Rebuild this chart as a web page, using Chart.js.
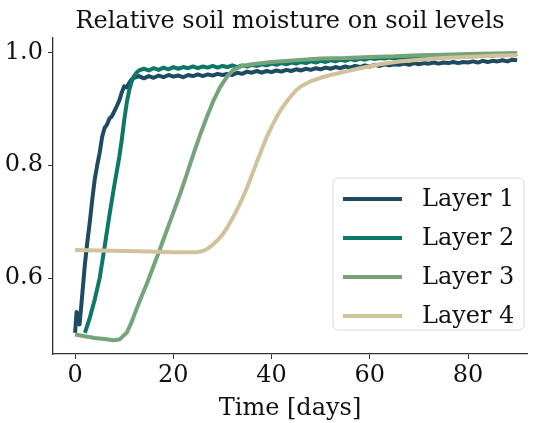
<!DOCTYPE html>
<html><head><meta charset="utf-8">
<script src="https://cdn.jsdelivr.net/npm/chart.js@4/dist/chart.umd.min.js"></script>
<style>html,body{margin:0;padding:0;background:#fff;}canvas{display:block;}</style>
</head><body>
<canvas id="c" width="533" height="423"></canvas>
<script>
const TITLE = 'Relative soil moisture on soil levels';
const X_LABEL = 'Time [days]';
const LABELS = ['Layer 1', 'Layer 2', 'Layer 3', 'Layer 4'];
const COLORS = ['#1d4b62', '#0f7767', '#76a47a', '#d2c29b'];
const X_TICKS = [0, 20, 40, 60, 80];
const Y_TICKS = [0.6, 0.8, 1.0];

const l1Days = [0,0.3,0.6,0.9,1.2,1.5,2,2.5,3,3.5,4,4.5,5,5.5,6,6.5,7,7.5,8,8.5,9,9.5,10,10.5,11,11.5,
  12,13,14,15,16,17,18,19,20,21,22,23,24,25,26,27,28,29,30,31,32,33,34,35,36,37,38,39,40,41,42,43,44,45,
  46,47,48,49,50,51,52,53,54,55,56,57,58,59,60,61,62,63,64,65,66,67,68,69,70,71,72,73,74,75,76,77,78,79,
  80,81,82,83,84,85,86,87,88,89,90];
const l1Vals = [0.503,0.540,0.528,0.518,0.545,0.575,0.625,0.665,0.700,0.740,0.775,0.800,0.822,0.850,0.866,0.872,0.883,0.887,0.896,0.905,0.915,0.929,0.940,0.938,0.946,0.952,
  0.955,0.958,0.954,0.958,0.955,0.959,0.956,0.960,0.957,0.959,0.956,0.960,0.958,0.961,0.958,0.961,0.959,0.962,0.960,0.962,0.960,0.964,0.962,0.966,0.964,0.967,0.964,0.967,0.965,0.968,0.966,0.969,0.967,0.970,
  0.968,0.971,0.969,0.972,0.970,0.973,0.971,0.974,0.972,0.975,0.973,0.976,0.974,0.977,0.975,0.978,0.976,0.979,0.977,0.979,0.978,0.980,0.978,0.981,0.979,0.981,0.980,0.982,0.980,0.982,0.981,0.983,0.981,0.983,
  0.982,0.984,0.982,0.985,0.983,0.985,0.984,0.986,0.984,0.987,0.986];

const l2Days = [2,3,4,5,6,7,8,8.5,9,9.5,10,10.5,11,11.5,12,12.5,
  13,14,15,16,17,18,19,20,21,22,23,24,25,26,27,28,29,30,31,32,33,34,35,36,37,38,39,40,41,42,43,44,45,
  46,47,48,49,50,51,52,53,54,55,56,57,58,59,60,61,62,63,64,65,66,67,68,69,70,71,72,73,74,75,76,77,78,79,
  80,81,82,83,84,85,86,87,88,89,90];
const l2Vals = [0.503,0.530,0.562,0.600,0.655,0.712,0.765,0.790,0.815,0.845,0.880,0.910,0.932,0.948,0.958,0.964,
  0.968,0.971,0.968,0.972,0.969,0.973,0.970,0.974,0.971,0.974,0.972,0.975,0.972,0.975,0.973,0.976,0.973,0.976,0.974,0.977,0.974,0.977,0.975,0.978,0.976,0.979,0.977,0.980,0.978,0.981,0.979,0.982,0.980,
  0.983,0.981,0.984,0.982,0.985,0.983,0.986,0.984,0.987,0.985,0.988,0.986,0.989,0.987,0.990,0.988,0.990,0.989,0.991,0.989,0.991,0.990,0.992,0.990,0.992,0.991,0.993,0.991,0.993,0.992,0.994,0.992,0.994,0.993,
  0.995,0.993,0.995,0.994,0.996,0.994,0.996,0.995,0.997,0.995,0.997];

const l3Days = [0,2,4,6,7.8,9,10.5,11.5,12.5,13.5,14.6,16,17,18.6,20,21.4,22.7,24.1,25.5,26.8,28.2,29.5,31,32.2,34,36,40,45,50,55,60,65,70,75,80,85,90];
const l3Vals = [0.500,0.497,0.494,0.492,0.490,0.491,0.503,0.522,0.545,0.567,0.590,0.622,0.645,0.683,0.716,0.750,0.783,0.820,0.855,0.885,0.915,0.938,0.958,0.969,0.976,0.979,0.983,0.986,0.989,0.990,0.992,0.993,0.995,0.996,0.997,0.998,0.999];

const l4Days = [0,5,10,15,20,25,26,27,28,29,30,31,32,33,34,35,36,37,38,39,40,41,42,43,44,45,46,48,50,52,55,58,62,66,70,75,80,85,90];
const l4Vals = [0.650,0.649,0.648,0.647,0.646,0.646,0.648,0.652,0.659,0.667,0.677,0.690,0.705,0.722,0.740,0.760,0.783,0.806,0.828,0.850,0.868,0.885,0.900,0.912,0.923,0.933,0.940,0.949,0.955,0.960,0.966,0.972,0.979,0.984,0.987,0.990,0.992,0.994,0.995];

const SERIES = [[l1Days, l1Vals], [l2Days, l2Vals], [l3Days, l3Vals], [l4Days, l4Vals]];
const FONT = "'DejaVu Serif', serif";

const datasets = SERIES.map(([xs, ys], i) => ({
  label: LABELS[i],
  data: xs.map((x, k) => ({ x: x, y: ys[k] })),
  borderColor: COLORS[i],
  backgroundColor: COLORS[i],
  borderWidth: 4,
  pointRadius: 0,
  tension: 0,
  fill: false,
  borderJoinStyle: 'round',
  order: 4 - i
}));

const overlay = {
  id: 'overlay',
  afterDraw(chart) {
    const ctx = chart.ctx;
    const ca = chart.chartArea;
    ctx.save();
    ctx.fillStyle = '#111';
    ctx.font = '24px ' + FONT;
    ctx.textAlign = 'center';
    ctx.textBaseline = 'middle';
    ctx.fillText(TITLE, (ca.left + ca.right) / 2, 22);
    const bx = 333, by = 178, bw = 191, bh = 152, r = 5;
    ctx.beginPath();
    ctx.moveTo(bx + r, by);
    ctx.arcTo(bx + bw, by, bx + bw, by + bh, r);
    ctx.arcTo(bx + bw, by + bh, bx, by + bh, r);
    ctx.arcTo(bx, by + bh, bx, by, r);
    ctx.arcTo(bx, by, bx + bw, by, r);
    ctx.closePath();
    ctx.fillStyle = 'rgba(255,255,255,0.85)';
    ctx.fill();
    ctx.strokeStyle = '#d8d8d8';
    ctx.lineWidth = 1;
    ctx.stroke();
    chart.data.datasets.forEach((ds, i) => {
      const y = 199 + i * 39;
      ctx.beginPath();
      ctx.moveTo(343, y);
      ctx.lineTo(402, y);
      ctx.strokeStyle = ds.borderColor;
      ctx.lineWidth = 4;
      ctx.stroke();
      ctx.fillStyle = '#111';
      ctx.font = '24px ' + FONT;
      ctx.textAlign = 'left';
      ctx.textBaseline = 'middle';
      ctx.fillText(ds.label, 422, y + 1);
    });
    ctx.restore();
  }
};

new Chart(document.getElementById('c'), {
  type: 'line',
  data: { datasets: datasets },
  options: {
    responsive: false,
    animation: false,
    devicePixelRatio: 1,
    layout: { padding: { top: 38, right: 6, left: 0, bottom: 0 } },
    plugins: { legend: { display: false }, title: { display: false }, tooltip: { enabled: false } },
    scales: {
      x: {
        type: 'linear',
        min: -4.5,
        max: 92,
        afterBuildTicks: s => { s.ticks = X_TICKS.map(v => ({ value: v })); },
        afterFit: s => { s.height = 69; },
        grid: { drawOnChartArea: false, drawTicks: true, tickLength: 5, tickColor: '#333', tickWidth: 1 },
        border: { display: true, color: '#333', width: 1.3 },
        ticks: { color: '#111', font: { family: FONT, size: 24 }, padding: 2, maxRotation: 0, callback: v => String(v) },
        title: { display: true, text: X_LABEL, color: '#111', font: { family: FONT, size: 24 }, padding: { top: 0, bottom: 0 } }
      },
      y: {
        type: 'linear',
        min: 0.4655,
        max: 1.0255,
        afterBuildTicks: s => { s.ticks = Y_TICKS.map(v => ({ value: v })); },
        afterFit: s => { s.width = 53; },
        grid: { drawOnChartArea: false, drawTicks: true, tickLength: 5, tickColor: '#333', tickWidth: 1 },
        border: { display: true, color: '#333', width: 1.3 },
        ticks: { color: '#111', font: { family: FONT, size: 24 }, padding: 5, callback: v => v.toFixed(1) }
      }
    }
  },
  plugins: [overlay]
});
</script>
</body></html>
